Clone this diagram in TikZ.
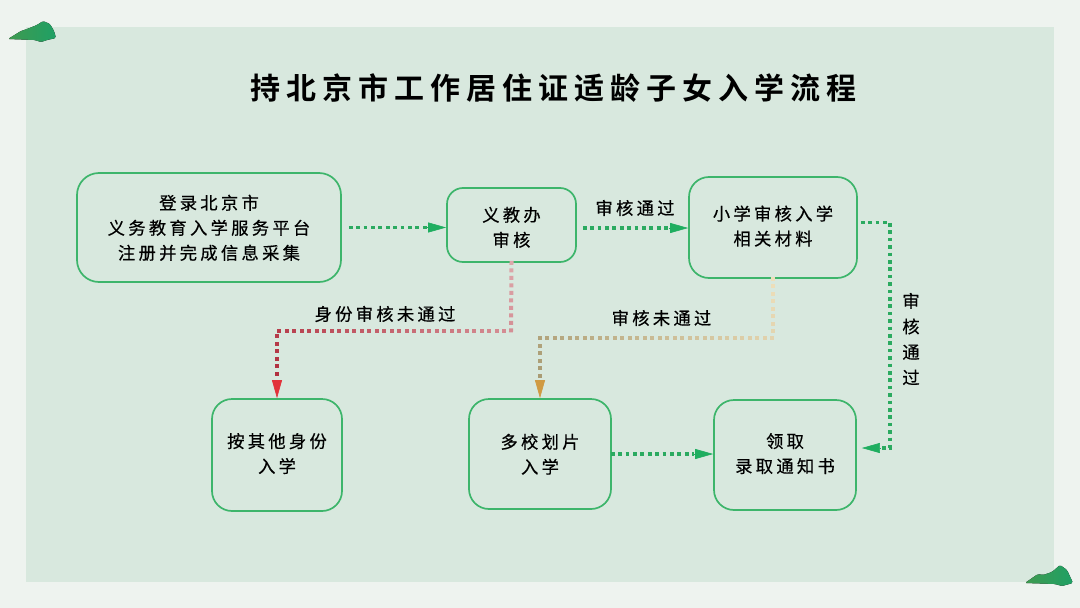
\documentclass[tikz,border=0pt]{standalone}
\usepackage{fontspec}
\setmainfont{Noto Sans CJK SC}
\newfontfamily\bodyfont[LetterSpace=19,FakeBold=0.5]{Noto Sans CJK SC}
\newfontfamily\titlefont[LetterSpace=20,BoldFont={Noto Sans CJK SC Bold}]{Noto Sans CJK SC}
\usetikzlibrary{arrows.meta,decorations.markings,calc}
\definecolor{pagebg}{HTML}{EEF3EF}
\definecolor{panelbg}{HTML}{D8E8DE}
\definecolor{boxline}{HTML}{3DB56B}
\definecolor{flowgreen}{HTML}{2BAA60}
\definecolor{tipgreen}{HTML}{1FAE60}
\definecolor{redstart}{HTML}{DDA6AA}
\definecolor{redend}{HTML}{B02C3C}
\definecolor{redtip}{HTML}{E2323A}
\definecolor{ambstart}{HTML}{EEDFBA}
\definecolor{ambend}{HTML}{A89A72}
\definecolor{ambtip}{HTML}{D09A42}
\definecolor{hillA}{HTML}{3F9A50}
\definecolor{hillB}{HTML}{1FA065}
\newcommand{\lowertext}[1]{\rule{0pt}{#1pt}}
\newcommand{\raisetext}{\rule[-4.2pt]{0pt}{0pt}}
\tikzset{
  x=1pt,y=-1pt,
  stepbox/.style={draw=boxline,line width=1.7pt,fill=none,rounded corners=#1,inner sep=0pt,align=center,
    font=\bodyfont\fontsize{17.3}{25}\selectfont,text=black},
  flowlabel/.style={inner sep=0pt,align=center,font=\bodyfont\fontsize{17.3}{25.5}\selectfont,text=black},
  flowline/.style={draw=flowgreen,line width=3.6pt,dash pattern=on 3.7pt off 3.7pt},
  tipgr/.style={-{Triangle[length=18pt,width=10pt]},draw=#1,fill=#1,line width=0.6pt},
  gradline/.style 2 args={decorate,decoration={markings,
    mark=between positions 0 and 1 step 7.5pt with {%
      \pgfkeysgetvalue{/pgf/decoration/mark info/distance from start}{\dst}%
      \pgfmathtruncatemacro{\tmix}{min(100,100*(\dst/\pgfdecoratedpathlength))}%
      \fill[color=#2!\tmix!#1] (-2pt,-2pt) rectangle (2pt,2pt);}}},
  hill/.style={left color=hillA,right color=hillB,draw=none},
}
\begin{document}
\begin{tikzpicture}
\useasboundingbox (0,0) rectangle (1080,608);
\fill[pagebg] (0,0) rectangle (1080,608);
\fill[panelbg] (26,27) rectangle (1054,582);

% hills
\fill[hill,rounded corners=1.5pt] (8,39) -- (21,31) -- (27,29) -- (37,25) -- (43,21) -- (50,24) -- (54,31) -- (56,38) -- (47,40) -- (41,42) -- (35,40) -- cycle;
\fill[hill,rounded corners=1.5pt] (1025,583) -- (1038,574) -- (1043,575) -- (1052,572) -- (1060,565) -- (1067,570) -- (1073,583) -- (1062,586) -- (1055,584) -- cycle;

% title
\node[inner sep=0pt,text=black,font=\titlefont\bfseries\fontsize{30}{32}\selectfont] (title) at (553.5,88) {持北京市工作居住证适龄子女入学流程};

% boxes
\node[stepbox=22pt,minimum width=264pt,minimum height=109pt] (b1) at (209,227.5) {\lowertext{18}登录北京市\\义务教育入学服务平台\\注册并完成信息采集\raisetext};
\node[stepbox=16pt,minimum width=129pt,minimum height=74pt] (b2) at (511.5,225) {\lowertext{22}义教办\\审核\raisetext};
\node[stepbox=20pt,minimum width=168pt,minimum height=101pt] (b3) at (773,227.5) {小学审核入学\\相关材料\raisetext};
\node[stepbox=20pt,minimum width=130pt,minimum height=112pt] (b4) at (277,455) {按其他身份\\入学\raisetext};
\node[stepbox=20pt,minimum width=142pt,minimum height=110pt] (b5) at (540,454) {\lowertext{18}多校划片\\入学\raisetext};
\node[stepbox=20pt,minimum width=142pt,minimum height=110pt] (b6) at (785,455) {领取\\录取通知书\raisetext};

% coordinates
\coordinate (s1) at ($(b1.east)+(7,0)$);
\coordinate (e1) at ($(b2.west)+(-19,2)$);
\coordinate (s2) at ($(b2.east)+(6,3)$);
\coordinate (e2) at ($(b3.west)+(-19,0)$);
\coordinate (s3) at ($(b3.east)+(3,-5)$);
\coordinate (e3) at ($(b6.east)+(24,-7)$);
\coordinate (t3) at ($(b6.east)+(5,-7)$);
\coordinate (s5) at ($(b5.east)+(-1,0)$);
\coordinate (e5) at ($(b6.west)+(-19,-1)$);
\coordinate (rt) at ($(b4.north)+(0,-17)$);
\coordinate (at) at ($(b5.north)+(0,-17)$);

% green connectors
\draw[flowline] (s1) -- (s1 -| e1);
\draw[tipgr=tipgreen] (s1 -| e1) -- (s1 -| b2.west);
\draw[flowline] (s2) -- (s2 -| e2);
\draw[tipgr=tipgreen] (s2 -| e2) -- (s2 -| b3.west);
\draw[flowline] (s3) -| (890,448) -- (e3);
\draw[tipgr=tipgreen] (e3) -- (t3);
\draw[flowline] (s5) -- (s5 -| e5);
\draw[tipgr=tipgreen] (s5 -| e5) -- (s5 -| b6.west);

% gradient connectors
\path[gradline={redstart}{redend}] (b2.south) -- (511,331) -- (277,331) -- (rt);
\draw[tipgr=redtip] (rt) -- (b4.north);
\path[gradline={ambstart}{ambend}] (b3.south) -- (773,338) -- (540,338) -- (at);
\draw[tipgr=ambtip] (at) -- (b5.north);

% labels
\node[flowlabel] (l1) at (635,208) {审核通过};
\node[flowlabel] (l2) at (385,314) {身份审核未通过};
\node[flowlabel] (l3) at (661.5,318) {审核未通过};
\node[flowlabel] (l4) at (911,339) {审\\核\\通\\过};
\end{tikzpicture}
\end{document}
